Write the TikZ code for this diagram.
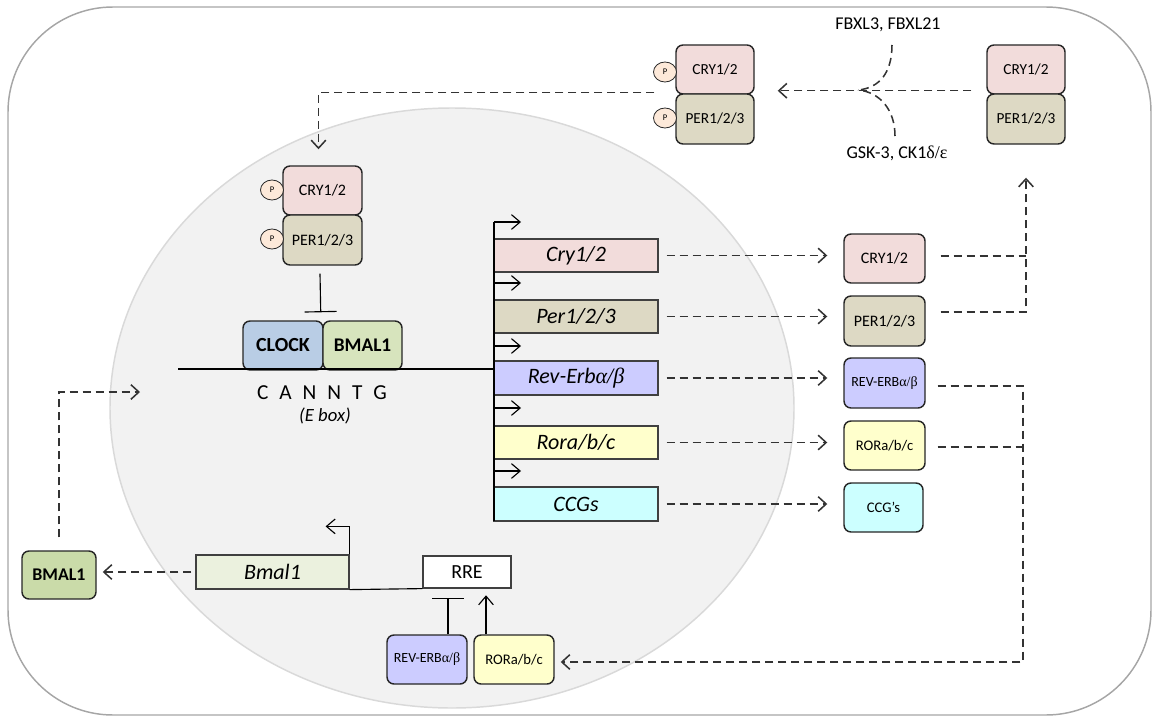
\documentclass[tikz,border=0pt]{standalone}
\usepackage{fontspec}
\setmainfont{Carlito}
\newfontfamily\grk{Liberation Serif}
\usetikzlibrary{arrows.meta,shapes.geometric}
\newdimen\pxu \pxu=0.75pt
\newcommand\fsz[1]{\fontsize{#1}{#1}\selectfont}
\definecolor{cryc}{HTML}{F2DCDB}
\definecolor{perc}{HTML}{DDD9C4}
\definecolor{revc}{HTML}{CCCCFF}
\definecolor{rorc}{HTML}{FFFFCC}
\definecolor{ccgc}{HTML}{CCFFFF}
\definecolor{pcol}{HTML}{FDE9D9}
\definecolor{clockc}{HTML}{B9CDE5}
\definecolor{bmalc}{HTML}{D7E4BD}
\definecolor{bmalgc}{HTML}{EBF1DE}
\definecolor{bmalpc}{HTML}{CADBA9}
\definecolor{nucf}{HTML}{F2F2F2}
\definecolor{nucd}{HTML}{D9D9D9}
\definecolor{outer}{HTML}{A6A6A6}
\begin{document}
\begin{tikzpicture}[x=0.75pt,y=-0.75pt,
 prot/.style={draw=black!85, line width=1.1pt, rounded corners=7\pxu, inner sep=0pt, align=center},
 sz/.style 2 args={minimum width=#1\pxu, minimum height=#2\pxu},
 gene/.style={draw=black!75, line width=0.9pt, inner sep=0pt, font=\fsz{16.5}\itshape},
 pcirc/.style={ellipse, draw=black!85, fill=pcol, line width=0.6pt, minimum width=23\pxu, minimum height=20\pxu, inner sep=0pt, font=\fsz{6.5}},
 dsh/.style={draw=black!80, line width=1.15pt, dash pattern=on 6pt off 3.75pt},
 arw/.style={-{Straight Barb[length=6pt,width=11pt]}},
 sol/.style={draw=black, line width=0.85pt},
 lbl/.style={inner sep=0pt}
]
\useasboundingbox (0,0) rectangle (1153,717);
% cell and nucleus
\draw[outer, line width=1.1pt, rounded corners=105\pxu] (8,7) rectangle (1151,715);
\path[fill=nucf, draw=nucd, line width=1.1pt] (452,408) ellipse [x radius=342\pxu, y radius=300\pxu];

% ---- cytoplasm top complexes
\node[prot, fill=cryc, sz={78}{49}, font=\fsz{11.5}] (lcry) at (715,69.5) {CRY1/2};
\node[prot, fill=perc, sz={78}{50}, font=\fsz{11.5}] (lper) at (715,119) {PER1/2/3};
\node[pcirc] (lp1) at (665,72) {P};
\node[pcirc] (lp2) at (665,118) {P};
\node[prot, fill=cryc, sz={78}{49}, font=\fsz{11.5}] (rcry) at (1026,69.5) {CRY1/2};
\node[prot, fill=perc, sz={78}{50}, font=\fsz{11.5}] (rper) at (1026,119) {PER1/2/3};
\node[lbl, font=\fsz{13.5}] (fbx) at (888,25) {FBXL3, FBXL21};
\node[lbl, font=\fsz{13.5}] (gsk) at (897,153) {GSK-3, CK1{\grk δ/ε}};
\coordinate (jn) at (858,90);
\coordinate (fbs) at (892,45);
\coordinate (gss) at (895,136);

% ---- nucleus complex
\node[prot, fill=cryc, sz={79}{49}, font=\fsz{12}] (ncry) at (322.5,190.5) {CRY1/2};
\node[prot, fill=perc, sz={79}{50}, font=\fsz{12}] (nper) at (322.5,240) {PER1/2/3};
\node[pcirc] (np1) at (272,190) {P};
\node[pcirc] (np2) at (272,239) {P};
\node[prot, fill=clockc, sz={80}{49}, font=\fsz{15}\bfseries] (clock) at (283,345.5) {CLOCK};
\node[prot, fill=bmalc, sz={79}{49}, font=\fsz{14.5}\bfseries] (bmaln) at (362.5,345.5) {BMAL1};
\node[lbl, font=\fsz{16}] (cann) at (322,393) {C\hspace{8.2pt}A\hspace{8.2pt}N\hspace{8.2pt}N\hspace{8.2pt}T\hspace{8.2pt}G};
\node[lbl, font=\fsz{14}\itshape] (ebox) at (325,416) {(E box)};
\coordinate (dnaL) at (178,369);
\coordinate (vtop) at (494,222);
\coordinate (vbot) at (494,521);

% ---- gene boxes
\node[gene, fill=cryc, sz={164}{33}] (gcry) at (576,255.5) {Cry1/2};
\node[gene, fill=perc, sz={164}{33}] (gper) at (576,316.5) {Per1/2/3};
\node[gene, fill=revc, sz={164}{34}] (grev) at (576,378) {Rev-Erb{\grk α/β}};
\node[gene, fill=rorc, sz={164}{33}] (gror) at (576,442.5) {Rora/b/c};
\node[gene, fill=ccgc, sz={164}{34}] (gccg) at (576,504) {CCGs};
\coordinate (a1) at (494,283);
\coordinate (a2) at (494,346);
\coordinate (a3) at (494,408);
\coordinate (a4) at (494,471);

% ---- protein column
\node[prot, fill=cryc, sz={81}{49}, font=\fsz{12}] (pcry) at (884.5,258.5) {CRY1/2};
\node[prot, fill=perc, sz={81}{50}, font=\fsz{12}] (pper) at (884.5,321) {PER1/2/3};
\node[prot, fill=revc, sz={81}{50}, font=\fsz{10.5}] (prev) at (884.5,383) {REV-ERB{\grk α/β}};
\node[prot, fill=rorc, sz={81}{49}, font=\fsz{11}] (pror) at (884.5,445.5) {RORa/b/c};
\node[prot, fill=ccgc, sz={79}{49}, font=\fsz{11}] (pccg) at (883.5,507.5) {CCG’s};

% ---- bottom
\node[gene, fill=bmalgc, sz={153}{34}] (bmal) at (272.5,572) {Bmal1};
\node[gene, fill=white, sz={88}{32}, font=\fsz{15}] (rre) at (467,572) {RRE};
\node[prot, fill=revc, sz={80}{49}, font=\fsz{10.5}] (brev) at (427,659.5) {REV-ERB{\grk α/β}};
\node[prot, fill=rorc, sz={80}{49}, font=\fsz{11}] (bror) at (514,659.5) {RORa/b/c};
\node[prot, fill=bmalpc, sz={74}{48}, font=\fsz{13.4}\bfseries] (bmalp) at (59,575) {BMAL1};
\coordinate (nucin) at (140,392);
\coordinate (jr) at (1023,662);

% ---- connectors: cytoplasm top
\draw[dsh, arw] ([xshift=-15\pxu,yshift=4\pxu]rcry.south west) -- ([xshift=23\pxu,yshift=4\pxu]lcry.south east);
\draw[dsh] (fbs) .. controls (892,72) and (880,88) .. (jn);
\draw[dsh] (gss) .. controls (895,110) and (880,92) .. (jn);
\draw[dsh, arw] ([xshift=-21\pxu,yshift=2\pxu]lcry.south west) -| ([xshift=-4\pxu,yshift=16\pxu]ncry.north);

% ---- nucleus
\draw[sol, -{Bar[width=24pt]}] ([xshift=-2.5\pxu,yshift=-8\pxu]nper.south) -- ([xshift=-3\pxu,yshift=8\pxu]clock.north east);
\draw[sol] (dnaL) -- (dnaL -| vtop);
\draw[sol] (vbot) -- (vtop);
\draw[sol, -{Straight Barb[length=6.5pt,width=11pt]}] (vtop) -- ++(27,0);
\foreach \c in {a1,a2,a3,a4}
  \draw[sol, -{Straight Barb[length=6.5pt,width=11pt]}] (\c) -- ++(27,0);

% gene -> protein
\foreach \g/\p in {gcry/pcry, gper/pper, grev/prev, gror/pror, gccg/pccg}
  \draw[dsh, arw] ([xshift=8\pxu]\g.east) -- ([xshift=-16\pxu]\g.east -| \p.west);

% CRY/PER -> cytoplasm
\draw[dsh] ([xshift=15\pxu,yshift=2.5\pxu]pcry.east) -- ([yshift=2.5\pxu]pcry.east -| rper.south);
\draw[dsh, arw] ([xshift=15\pxu,yshift=9\pxu]pper.east) -| ([yshift=-33\pxu]rper.south);

% REV/ROR -> bottom
\draw[dsh, arw] ([xshift=12\pxu,yshift=-3\pxu]prev.east) -| (jr) -- ([xshift=6\pxu]bror.east |- jr);
\draw[dsh] ([xshift=12\pxu,yshift=-1.5\pxu]pror.east) -- ([yshift=-1.5\pxu]pror.east -| jr);

% bottom gene
\draw[sol] (bmal.south east) -- (rre.south west);
\draw[sol, -{Straight Barb[length=6.5pt,width=11pt]}] (bmal.north east) -- ++(0,-28) -- ++(-24,0);
\draw[sol, -{Bar[width=24pt]}] ([xshift=21\pxu]brev.north) -- ++(0,-36);
\draw[sol, -{Straight Barb[length=6.5pt,width=11pt]}] ([xshift=-28\pxu]bror.north) -- ++(0,-39);
\draw[dsh, arw] ([xshift=-4\pxu]bmal.west) -- ([xshift=6\pxu]bmal.west -| bmalp.east);
\draw[dsh, arw] ([yshift=13\pxu]bmalp.north) |- (nucin);
\end{tikzpicture}
\end{document}
